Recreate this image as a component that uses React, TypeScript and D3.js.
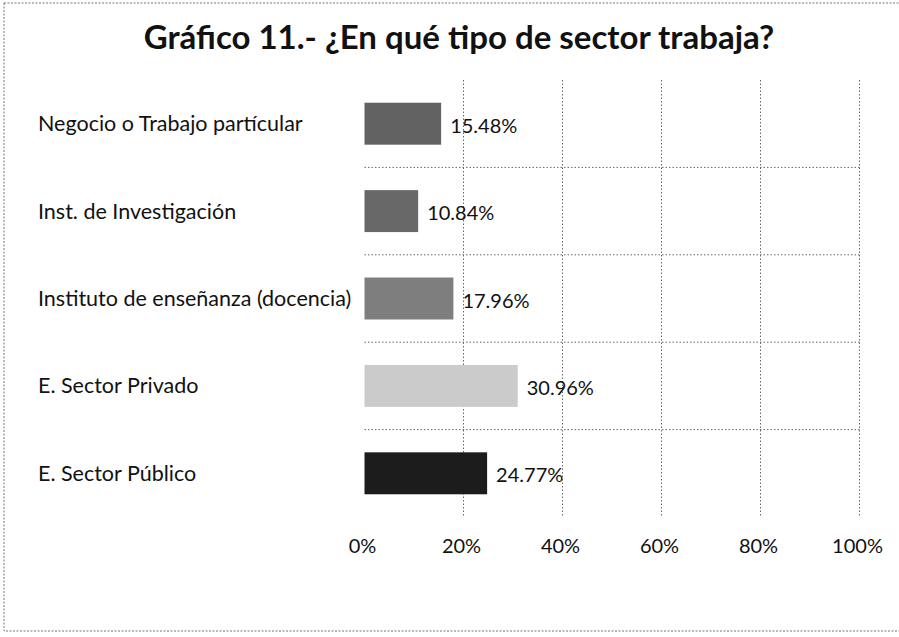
import React from "react";
import * as d3 from "d3";

const categories = [
  "Negocio o Trabajo partícular",
  "Inst. de Investigación",
  "Instituto de enseñanza (docencia)",
  "E. Sector Privado",
  "E. Sector Público",
];
const values = [15.48, 10.84, 17.96, 30.96, 24.77];
const barColors = ["#626262", "#686868", "#7e7e7e", "#cbcbcb", "#1c1c1c"];
const ticks = [0, 20, 40, 60, 80, 100];
const title = "Gráfico 11.- ¿En qué tipo de sector trabaja?";

const W = 899;
const H = 637;
const FONT = "Lato, 'Open Sans', sans-serif";

export default function App() {
  const x = d3.scaleLinear().domain([0, 100]).range([364.5, 859.5]);
  const top = 80;
  const bottom = 517;
  const y = d3.scaleBand<string>().domain(categories).range([top, bottom]).paddingInner(0.52).paddingOuter(0.26);
  const step = y.step();
  const inner = categories.slice(1).map((c) => (y(c) as number) - y.paddingInner() * step / 2);

  return (
    <svg width={W} height={H} style={{ position: "absolute", left: 0, top: 0, background: "#fff" }}>
      <rect x={4} y={3} width={W} height={628} fill="none" stroke="#777" strokeWidth={1} strokeDasharray="2,1.5" />
      <text x={459} y={49} textAnchor="middle" fontFamily={FONT} fontWeight="bold" fontSize={33} fill="#111">
        {title}
      </text>
      {ticks.slice(1).map((t) => (
        <line key={"v" + t} x1={x(t)} x2={x(t)} y1={top} y2={bottom} stroke="#666" strokeWidth={1} strokeDasharray="1.5,2" />
      ))}
      {inner.map((yy, i) => (
        <line key={"h" + i} x1={x(0)} x2={x(100)} y1={yy} y2={yy} stroke="#666" strokeWidth={1} strokeDasharray="1.5,2" />
      ))}
      {categories.map((c, i) => {
        const yc = (y(c) as number) + y.bandwidth() / 2;
        return (
          <g key={c}>
            <rect x={x(0)} y={y(c)} width={x(values[i]) - x(0)} height={y.bandwidth()} fill={barColors[i]} />
            <text x={x(values[i]) + 9} y={yc + 2} dy="0.35em" fontFamily={FONT} fontSize={20} fill="#111">
              {values[i].toFixed(2) + "%"}
            </text>
            <text x={38} y={yc} dy="0.35em" fontFamily={FONT} fontSize={21.5} fill="#111">
              {c}
            </text>
          </g>
        );
      })}
      {ticks.map((t) => (
        <text key={"t" + t} x={x(t) - 2} y={553} textAnchor="middle" fontFamily={FONT} fontSize={20} fill="#111">
          {t + "%"}
        </text>
      ))}
    </svg>
  );
}
